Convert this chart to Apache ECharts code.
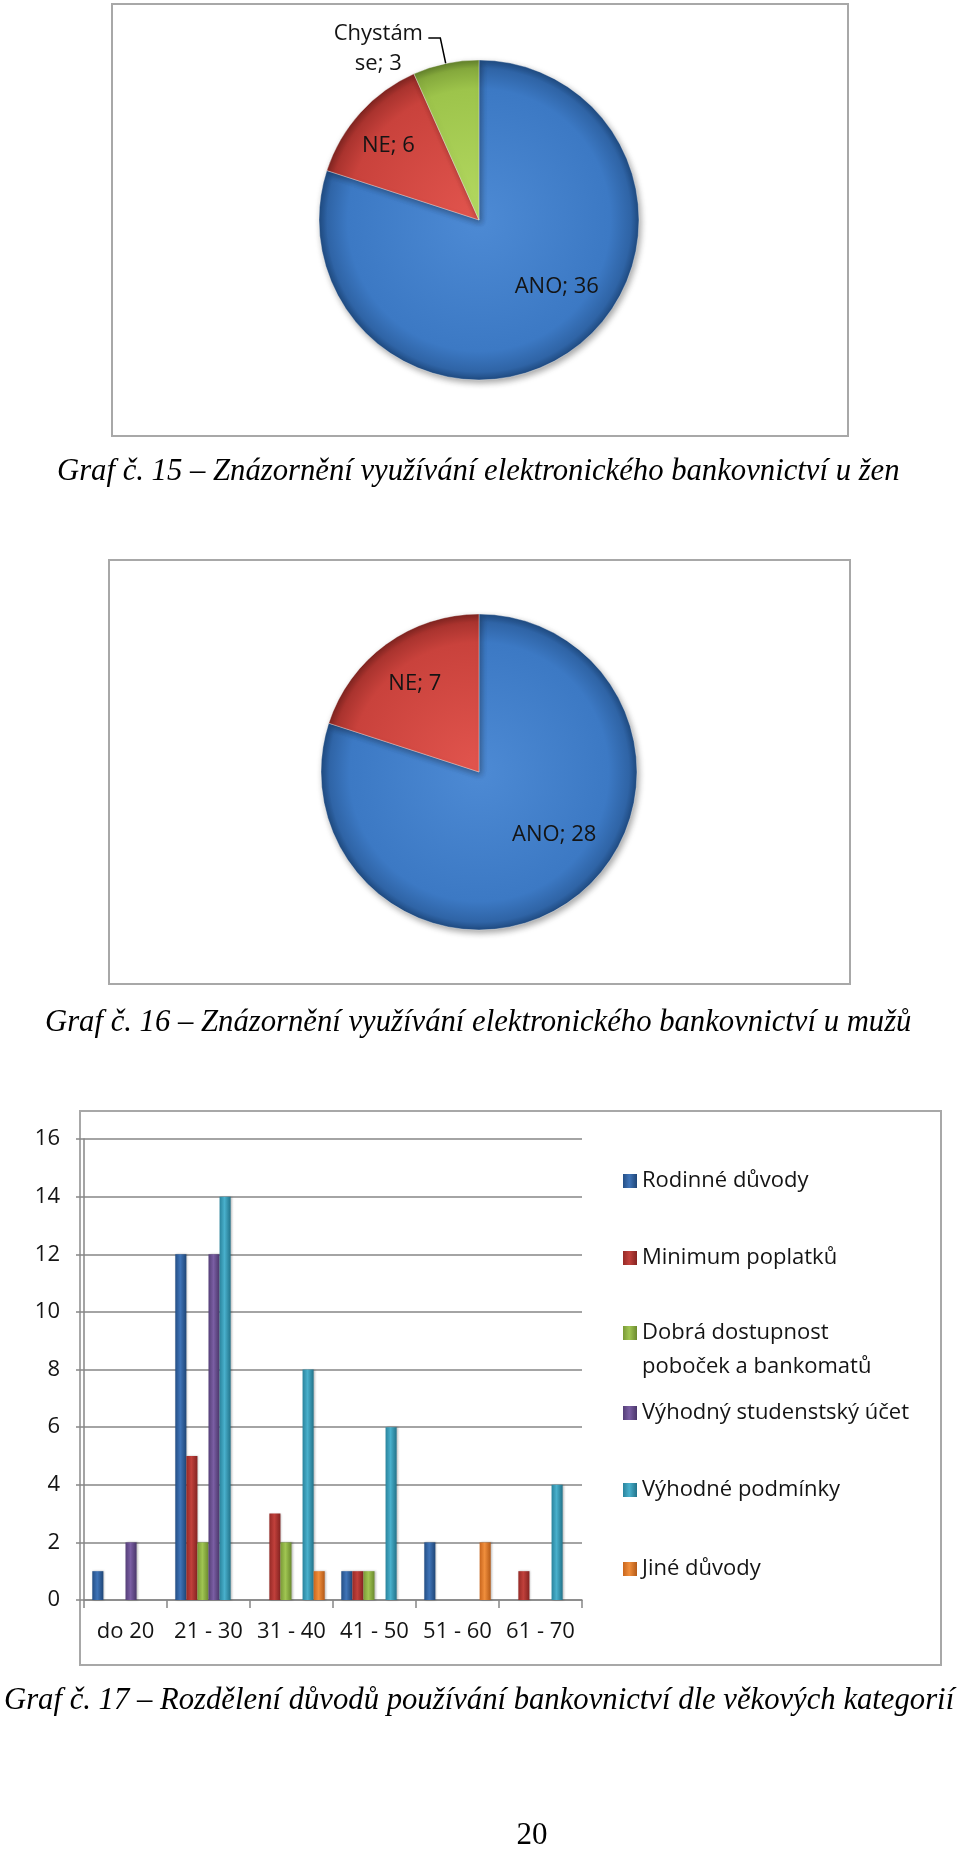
<!DOCTYPE html>
<html>
<head>
<meta charset="utf-8">
<script src="https://cdn.jsdelivr.net/npm/echarts@6/dist/echarts.min.js"></script>
<style>
  html, body { margin: 0; padding: 0; background: #ffffff; }
  #chart { width: 960px; height: 1851px; }
</style>
</head>
<body>
<div id="chart"></div>
<script>
// ---------- DATA ----------
const womenNames = ['ANO', 'NE', 'Chystám se'];
const womenValues = [36, 6, 3];

const menNames = ['ANO', 'NE'];
const menValues = [28, 7];

const ageCategories = ['do 20', '21 - 30', '31 - 40', '41 - 50', '51 - 60', '61 - 70'];
const reasonNames = [
  'Rodinné důvody',
  'Minimum poplatků',
  'Dobrá dostupnost poboček a bankomatů',
  'Výhodný studenstský účet',
  'Výhodné podmínky',
  'Jiné důvody'
];
const rodinneDuvody      = [1, 12, 0, 1, 2, 0];
const minimumPoplatku    = [0, 5, 3, 1, 0, 1];
const dobraDostupnost    = [0, 2, 2, 1, 0, 0];
const vyhodnyStudentsky  = [2, 12, 0, 0, 0, 0];
const vyhodnePodminky    = [0, 14, 8, 6, 0, 4];
const jineDuvody         = [0, 0, 1, 0, 2, 0];
const reasonValues = [rodinneDuvody, minimumPoplatku, dobraDostupnost, vyhodnyStudentsky, vyhodnePodminky, jineDuvody];

const yAxisMin = 0, yAxisMax = 16, yAxisInterval = 2;

const caption15 = 'Graf č. 15 – Znázornění využívání elektronického bankovnictví u žen';
const caption16 = 'Graf č. 16 – Znázornění využívání elektronického bankovnictví u mužů';
const caption17 = 'Graf č. 17 – Rozdělení důvodů používání bankovnictví dle věkových kategorií';
const pageNumber = '20';

// ---------- STYLE ----------
const SANS = '"Open Sans", "Noto Sans", sans-serif';
const SERIF = '"Liberation Serif", "DejaVu Serif", serif';
const TEXT = '#141414';

const pieColors = {
  ANO: ['#4d8ad4', '#3c79c4', '#2f64a6', '#1f4a80'],
  NE: ['#e2554e', '#c9423c', '#a9332e', '#7e2420'],
  'Chystám se': ['#b5da62', '#9dc44b', '#84a83c', '#62802b']
};
function radial(cx, cy, r, c) {
  return { type: 'radial', x: cx, y: cy, r: r, global: true,
    colorStops: [
      { offset: 0, color: c[0] }, { offset: 0.82, color: c[1] },
      { offset: 0.95, color: c[2] }, { offset: 1, color: c[3] }
    ] };
}
const barBase = [
  ['#244f86', '#3f74b8', '#1f4677'],
  ['#962a27', '#c1403b', '#842321'],
  ['#7a9a37', '#a0c552', '#6b8a2e'],
  ['#553f78', '#7a5ea3', '#4a366a'],
  ['#2a849d', '#49b0cc', '#22738a'],
  ['#c9661d', '#f08e3c', '#b45a17']
];
function barGrad(c) {
  return { type: 'linear', x: 0, y: 0, x2: 1, y2: 0,
    colorStops: [{ offset: 0, color: c[0] }, { offset: 0.45, color: c[1] }, { offset: 1, color: c[2] }] };
}

// pie geometry
const pie1Center = [479, 220], pie1R = 160;
const pie2Center = [479, 772], pie2R = 158;
// label nudges (dx, dy) from default inside label positions
const pie1LabelShift = [[29, 0], [-29, -19], [0, 0]];
const pie2LabelShift = [[27, -4], [-16, -22]];

function pieData(names, values, center, r) {
  return names.map((n, i) => {
    const item = { name: n, value: values[i], itemStyle: { color: radial(center[0], center[1], r, pieColors[n]) } };
    if (n !== 'Chystám se') {
      item.label = { position: 'inside' };
      item.labelLine = { show: false };
    } else {
      item.label = { padding: [22, 0, 0, 0] };
    }
    return item;
  });
}

const pieCommon = {
  type: 'pie',
  startAngle: 90,
  clockwise: true,
  avoidLabelOverlap: false,
  animation: false,
  itemStyle: {
    borderColor: 'rgba(255,255,255,0.35)', borderWidth: 1,
    shadowBlur: 6, shadowColor: 'rgba(0,0,0,0.35)', shadowOffsetX: 2, shadowOffsetY: 3
  },
  emphasis: { disabled: true },
  label: {
    show: true,
    position: 'outside',
    fontFamily: SANS, fontSize: 22, color: TEXT, lineHeight: 30,
    formatter: p => {
      if (p.name === 'Chystám se') {
        const parts = p.name.split(' ');
        return '{c|' + parts[0] + '}\n{c|' + parts.slice(1).join(' ') + '; ' + p.value + '}';
      }
      return p.name + '; ' + p.value;
    },
    rich: { c: { width: 90, align: 'center', fontFamily: SANS, fontSize: 22, color: TEXT, lineHeight: 30 } },
    distanceToLabelLine: 5
  },
  labelLine: { show: true, length: 26, length2: 12, smooth: false, lineStyle: { color: '#000', width: 1.5 } }
};

const series = [];
series.push(Object.assign({}, pieCommon, {
  name: 'ženy', center: pie1Center, radius: [0, pie1R],
  data: pieData(womenNames, womenValues, pie1Center, pie1R),
  labelLayout: p => ({ dx: pie1LabelShift[p.dataIndex][0], dy: pie1LabelShift[p.dataIndex][1] })
}));
series.push(Object.assign({}, pieCommon, {
  name: 'muži', center: pie2Center, radius: [0, pie2R],
  data: pieData(menNames, menValues, pie2Center, pie2R),
  labelLayout: p => ({ dx: pie2LabelShift[p.dataIndex][0], dy: pie2LabelShift[p.dataIndex][1] })
}));

reasonNames.forEach((n, i) => {
  series.push({
    type: 'bar', name: n, data: reasonValues[i],
    xAxisIndex: 0, yAxisIndex: 0,
    barGap: '0%', barCategoryGap: '20%',
    animation: false,
    itemStyle: { color: barGrad(barBase[i]), shadowBlur: 2, shadowColor: 'rgba(0,0,0,0.25)', shadowOffsetX: 1 },
    emphasis: { disabled: true }
  });
});

// legends: one per item so rows can be spaced like the original
const legendMarkerCenters = [1178, 1255, 1332, 1410, 1487, 1566];
const legends = reasonNames.map((n, i) => {
  const twoLine = n.indexOf('poboček') >= 0;
  return {
    data: [n],
    orient: 'vertical',
    left: 623,
    top: legendMarkerCenters[i] - (twoLine ? 50 : 14),
    padding: 0,
    itemWidth: 14, itemHeight: 14,
    itemGap: 0,
    icon: 'rect',
    selectedMode: false,
    // leading blank line keeps the marker level with the first text line
    formatter: name => twoLine ? '\n' + name.replace(' poboček', '\npoboček') : name,
    textStyle: { fontFamily: SANS, fontSize: 22, color: TEXT, lineHeight: 34 }
  };
});

const CAPTION_SIZE = 30.7;
const option = {
  backgroundColor: '#ffffff',
  animation: false,
  grid: { left: 84, right: 378, top: 1139, bottom: 251 },
  xAxis: {
    type: 'category', data: ageCategories, boundaryGap: true,
    axisLine: { show: true, lineStyle: { color: '#868686', width: 1.5 } },
    axisTick: { show: true, length: 8, lineStyle: { color: '#868686', width: 1.5 } },
    axisLabel: { interval: 0, margin: 21, fontFamily: SANS, fontSize: 22, color: TEXT },
    splitLine: { show: false }
  },
  yAxis: {
    type: 'value', min: yAxisMin, max: yAxisMax, interval: yAxisInterval,
    axisLine: { show: true, lineStyle: { color: '#868686', width: 1.5 } },
    axisTick: { show: true, length: 8, lineStyle: { color: '#868686', width: 1.5 } },
    axisLabel: { margin: 24, fontFamily: SANS, fontSize: 22, color: TEXT },
    splitLine: { show: true, lineStyle: { color: '#868686', width: 1.5 } }
  },
  legend: legends,
  series: series,
  graphic: [
    { type: 'rect', z: -1, shape: { x: 112, y: 4, width: 736, height: 432 }, style: { fill: 'none', stroke: '#a8a8a8', lineWidth: 2 } },
    { type: 'rect', z: -1, shape: { x: 109, y: 560, width: 741, height: 424 }, style: { fill: 'none', stroke: '#a8a8a8', lineWidth: 2 } },
    { type: 'rect', z: -1, shape: { x: 80, y: 1111, width: 861, height: 554 }, style: { fill: 'none', stroke: '#a8a8a8', lineWidth: 2 } },
    { type: 'text', x: 57, y: 472, style: { text: caption15, fontFamily: SERIF, fontStyle: 'italic', fontSize: CAPTION_SIZE, fill: '#000', verticalAlign: 'middle', align: 'left' } },
    { type: 'text', x: 45, y: 1023, style: { text: caption16, fontFamily: SERIF, fontStyle: 'italic', fontSize: CAPTION_SIZE, fill: '#000', verticalAlign: 'middle', align: 'left' } },
    { type: 'text', x: 4, y: 1701, style: { text: caption17, fontFamily: SERIF, fontStyle: 'italic', fontSize: CAPTION_SIZE, fill: '#000', verticalAlign: 'middle', align: 'left' } },
    { type: 'text', x: 532, y: 1836, style: { text: pageNumber, fontFamily: SERIF, fontSize: 31, fill: '#000', verticalAlign: 'middle', align: 'center' } }
  ]
};

const chart = echarts.init(document.getElementById('chart'), null, { renderer: 'canvas', width: 960, height: 1851 });
chart.setOption(option);
</script>
</body>
</html>
